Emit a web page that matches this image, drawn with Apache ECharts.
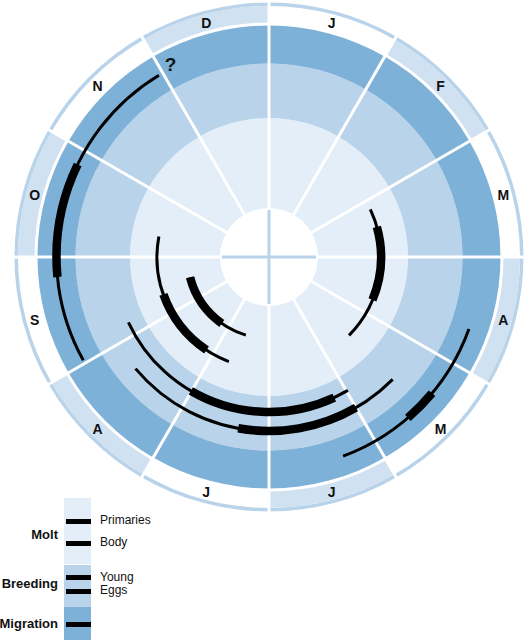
<!DOCTYPE html>
<html>
<head>
<meta charset="utf-8">
<script src="https://cdn.jsdelivr.net/npm/echarts@6/dist/echarts.min.js"></script>
<style>
html,body{margin:0;padding:0;background:#fff;}
#chart{width:527px;height:640px;}
</style>
</head>
<body>
<div id="chart"></div>
<script>
// ---------- data ----------
const months = ['J','F','M','A','M','J','J','A','S','O','N','D'];
const bandNames = ['Molt', 'Breeding', 'Migration'];
const activityNames = ['Primaries', 'Body', 'Young', 'Eggs', 'Migration'];
const activityBand = ['Molt', 'Molt', 'Breeding', 'Breeding', 'Migration'];
// periods, in months from 1 January (0 = Jan 1, 12 = Dec 31)
const periodActivity = ['Primaries', 'Body', 'Body', 'Young', 'Eggs', 'Migration', 'Migration'];
const periodStart = [6.55, 2.16, 6.70, 4.98, 4.49, 3.66, 8.03];
const periodEnd   = [8.52, 4.48, 9.35, 8.17, 7.67, 5.32, 10.96];
const peakStart   = [7.18, 2.48, 7.13, 5.17, 5.00, 4.33, 8.82];
const peakEnd     = [8.52, 3.75, 8.35, 7.01, 6.34, 4.64, 9.86];
const noteText = ['?'];
const noteActivity = ['Migration'];
const noteMonth = [11.1];

// ---------- layout & style ----------
const layout = {
  center: [269, 257],
  outer: 254.5,
  hole: 49,
  crossRadius: 47,
  bandEdges: [49, 139, 193.5, 231.5],
  ringInner: 234.5,
  ringOuter: 251,
  labelRadius: 242.5,
  laneRadius: { Primaries: 81.5, Body: 112, Young: 155, Eggs: 174, Migration: 212.5 },
  noteRadius: 217
};
const colors = {
  band: { Molt: '#e4eef8', Breeding: '#b9d4ea', Migration: '#7eb1d8' },
  monthShade: '#d0e1f2',
  border: '#b9d4ea',
  cross: '#b9d4ea',
  ink: '#000',
  text: '#111'
};
const FONT = '"Liberation Sans", Arial, Helvetica, sans-serif';

// ---------- helpers ----------
function toPolar(api, cs, r, a) {
  const p = api.coord([r, a]);
  return {
    r: Math.hypot(p[0] - cs.cx, p[1] - cs.cy),
    ang: Math.atan2(p[1] - cs.cy, p[0] - cs.cx),
    p: p
  };
}
function sectorShape(api, cs, rIn, rOut, a0, a1) {
  const o0 = toPolar(api, cs, rOut, a0);
  const o1 = toPolar(api, cs, rOut, a1);
  const rin = rIn > 0 ? toPolar(api, cs, rIn, a0).r : 0;
  let sa = o0.ang, ea = o1.ang;
  while (ea <= sa + 1e-9) ea += Math.PI * 2;
  return { cx: cs.cx, cy: cs.cy, r0: rin, r: o0.r, startAngle: sa, endAngle: ea, clockwise: true };
}
function arcShape(api, cs, r, a0, a1) {
  const s = sectorShape(api, cs, 0, r, a0, a1);
  return { cx: s.cx, cy: s.cy, r: s.r, startAngle: s.startAngle, endAngle: s.endAngle, clockwise: true };
}

// ---------- series data ----------
const bandData = bandNames.map((n, i) => [layout.bandEdges[i + 1], 0, layout.bandEdges[i], 12, i]);
const shadeData = months.map((m, i) => [layout.ringOuter, i, layout.ringInner, i + 1, i]).filter(d => d[4] % 2 === 1);
const borderData = [[layout.outer, 0, layout.ringOuter, 12]];
const sepData = months.map((m, i) => [layout.outer + 1, i, layout.hole - 1]);
const crossData = [[layout.crossRadius, 0], [layout.crossRadius, 3]];
const periodData = periodActivity.map((act, i) => [layout.laneRadius[act], periodStart[i], periodEnd[i], peakStart[i], peakEnd[i]]);
const labelData = months.map((m, i) => [layout.labelRadius, i + 0.5]);
const noteData = noteText.map((t, i) => [layout.noteRadius, noteMonth[i]]);

const option = {
  animation: false,
  polar: { center: layout.center, radius: layout.outer },
  angleAxis: { type: 'value', min: 0, max: 12, startAngle: 90, clockwise: true, show: false },
  radiusAxis: { type: 'value', min: 0, max: layout.outer, show: false },
  series: [
    {
      type: 'custom', coordinateSystem: 'polar', z: 1, silent: true,
      data: bandData,
      renderItem: function (params, api) {
        const cs = params.coordSys;
        return {
          type: 'sector',
          shape: sectorShape(api, cs, api.value(2), api.value(0), api.value(1), api.value(3)),
          style: { fill: colors.band[bandNames[api.value(4)]], stroke: null }
        };
      }
    },
    {
      type: 'custom', coordinateSystem: 'polar', z: 1, silent: true,
      data: borderData,
      renderItem: function (params, api) {
        const cs = params.coordSys;
        return {
          type: 'sector',
          shape: sectorShape(api, cs, api.value(2), api.value(0), api.value(1), api.value(3)),
          style: { fill: colors.border, stroke: null }
        };
      }
    },
    {
      type: 'custom', coordinateSystem: 'polar', z: 1, silent: true,
      data: shadeData,
      renderItem: function (params, api) {
        const cs = params.coordSys;
        return {
          type: 'sector',
          shape: sectorShape(api, cs, api.value(2), api.value(0), api.value(1), api.value(3)),
          style: { fill: colors.monthShade, stroke: null }
        };
      }
    },
    {
      type: 'custom', coordinateSystem: 'polar', z: 2, silent: true,
      data: sepData,
      renderItem: function (params, api) {
        const a = api.coord([api.value(2), api.value(1)]);
        const b = api.coord([api.value(0), api.value(1)]);
        return {
          type: 'line',
          shape: { x1: a[0], y1: a[1], x2: b[0], y2: b[1] },
          style: { stroke: '#fff', lineWidth: 3 }
        };
      }
    },
    {
      type: 'custom', coordinateSystem: 'polar', z: 3, silent: true,
      data: crossData,
      renderItem: function (params, api) {
        const a = api.coord([api.value(0), api.value(1)]);
        const b = api.coord([api.value(0), api.value(1) + 6]);
        return {
          type: 'line',
          shape: { x1: a[0], y1: a[1], x2: b[0], y2: b[1] },
          style: { stroke: colors.cross, lineWidth: 3 }
        };
      }
    },
    {
      type: 'custom', coordinateSystem: 'polar', z: 4, silent: true,
      data: periodData,
      renderItem: function (params, api) {
        const cs = params.coordSys;
        const r = api.value(0);
        return {
          type: 'group',
          children: [
            {
              type: 'arc',
              shape: arcShape(api, cs, r, api.value(1), api.value(2)),
              style: { stroke: colors.ink, lineWidth: 3, fill: 'none', lineCap: 'butt' }
            },
            {
              type: 'arc',
              shape: arcShape(api, cs, r, api.value(3), api.value(4)),
              style: { stroke: colors.ink, lineWidth: 8.5, fill: 'none', lineCap: 'butt' }
            }
          ]
        };
      }
    },
    {
      type: 'custom', coordinateSystem: 'polar', z: 5, silent: true,
      data: labelData,
      renderItem: function (params, api) {
        const p = api.coord([api.value(0), api.value(1)]);
        return {
          type: 'text',
          style: {
            text: months[params.dataIndex], x: p[0], y: p[1] + 0.5,
            font: 'bold 14px ' + FONT, fill: colors.text,
            align: 'center', verticalAlign: 'middle',
            textAlign: 'center', textVerticalAlign: 'middle'
          }
        };
      }
    },
    {
      type: 'custom', coordinateSystem: 'polar', z: 5, silent: true,
      data: noteData,
      renderItem: function (params, api) {
        const p = api.coord([api.value(0), api.value(1)]);
        return {
          type: 'text',
          style: {
            text: noteText[params.dataIndex], x: p[0], y: p[1] + 1,
            font: 'bold 19px ' + FONT, fill: colors.text,
            align: 'center', verticalAlign: 'middle',
            textAlign: 'center', textVerticalAlign: 'middle'
          }
        };
      }
    }
  ],
  graphic: []
};

// ---------- legend (key bar) ----------
const key = {
  x: 64, w: 27,
  bandTop: { Molt: 498, Breeding: 565, Migration: 607 },
  bandBottom: { Molt: 564, Breeding: 607, Migration: 641 },
  sampleY: { Primaries: 519, Body: 541, Young: 575, Eggs: 589, Migration: 622 },
  sampleX: [66, 91], sampleH: 5,
  itemLabelX: 100,
  itemLabelY: { Primaries: 519.5, Body: 541.5, Young: 576.5, Eggs: 589.5 },
  groupLabelX: 58,
  groupLabelY: { Molt: 534, Breeding: 583, Migration: 623 }
};
bandNames.forEach(b => {
  option.graphic.push({
    type: 'rect', silent: true, z: 10,
    shape: { x: key.x, y: key.bandTop[b], width: key.w, height: key.bandBottom[b] - key.bandTop[b] },
    style: { fill: colors.band[b] }
  });
  option.graphic.push({
    type: 'text', silent: true, z: 11,
    style: {
      text: b, x: key.groupLabelX, y: key.groupLabelY[b],
      font: 'bold 13px ' + FONT, fill: colors.text,
      align: 'right', verticalAlign: 'middle', textAlign: 'right', textVerticalAlign: 'middle'
    }
  });
});
activityNames.forEach((a, i) => {
  option.graphic.push({
    type: 'rect', silent: true, z: 12,
    shape: { x: key.sampleX[0], y: key.sampleY[a], width: key.sampleX[1] - key.sampleX[0], height: key.sampleH },
    style: { fill: colors.ink }
  });
  if (activityBand[i] !== a) {
    option.graphic.push({
      type: 'text', silent: true, z: 12,
      style: {
        text: a, x: key.itemLabelX, y: key.itemLabelY[a],
        font: '12px ' + FONT, fill: colors.text,
        align: 'left', verticalAlign: 'middle', textAlign: 'left', textVerticalAlign: 'middle'
      }
    });
  }
});

const chart = echarts.init(document.getElementById('chart'), null, { renderer: 'svg', width: 527, height: 640 });
chart.setOption(option);
</script>
</body>
</html>
